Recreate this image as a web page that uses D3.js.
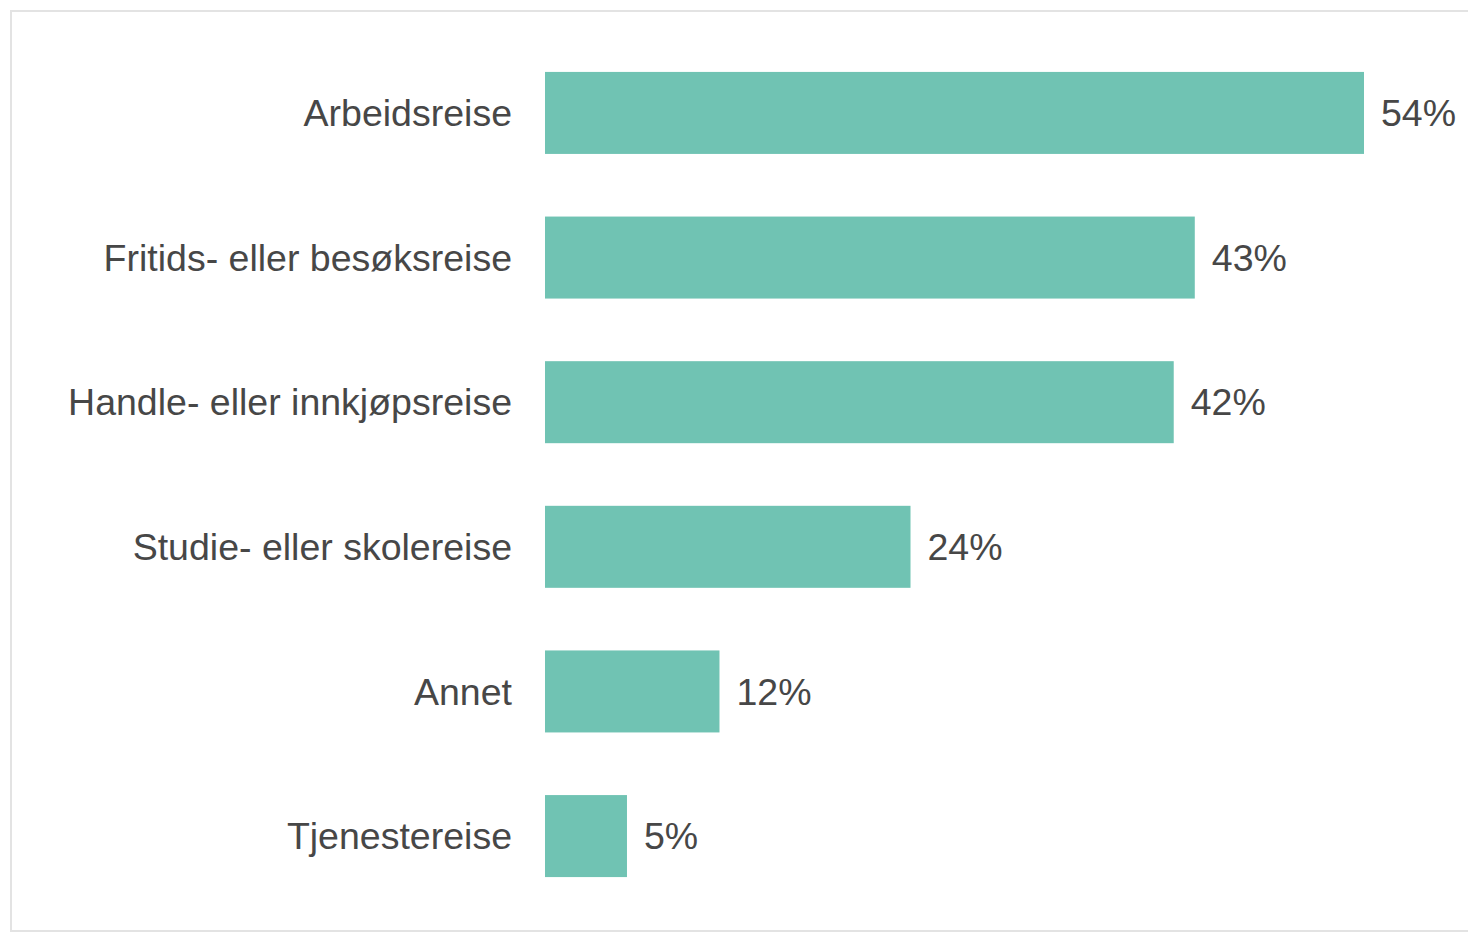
<!DOCTYPE html>
<html>
<head>
<meta charset="utf-8">
<script src="https://cdn.jsdelivr.net/npm/d3@7"></script>
<style>
  html, body { margin: 0; padding: 0; background: #fff; }
  svg { display: block; }
</style>
</head>
<body>
<div id="chart"></div>
<script>
// data (bar lengths, labels are the rounded values)
const categories = ['Arbeidsreise', 'Fritids- eller besøksreise', 'Handle- eller innkjøpsreise', 'Studie- eller skolereise', 'Annet', 'Tjenestereise'];
const values = [54.45, 43.2, 41.8, 24.3, 11.6, 5.45];

const width = 1468;
const height = 933;

const svg = d3.select('#chart').append('svg')
  .attr('width', width)
  .attr('height', height);

// frame lines (top + left + bottom)
svg.append('path')
  .attr('d', `M${width},11 H11 V${height - 2} H${width}`)
  .attr('fill', 'none')
  .attr('stroke', '#e3e3e3')
  .attr('stroke-width', 2);

const x = d3.scaleLinear()
  .domain([0, 54.45])
  .range([545, 1364]);

const y = d3.scaleBand()
  .domain(categories)
  .range([43, 906])
  .paddingInner(0.433)
  .paddingOuter(0.2);

const g = svg.append('g');

g.selectAll('rect')
  .data(categories)
  .enter().append('rect')
  .attr('x', x(0))
  .attr('y', d => y(d))
  .attr('width', (d, i) => x(values[i]) - x(0))
  .attr('height', y.bandwidth())
  .attr('fill', '#70c3b3');

// category labels
g.selectAll('.cat')
  .data(categories)
  .enter().append('text')
  .attr('class', 'cat')
  .attr('x', 512)
  .attr('y', d => y(d) + y.bandwidth() / 2)
  .attr('dy', '0.35em')
  .attr('text-anchor', 'end')
  .attr('font-family', 'Liberation Sans, Arial, sans-serif')
  .attr('font-size', 37.5)
  .attr('fill', '#474747')
  .text(d => d);

// value labels
g.selectAll('.val')
  .data(categories)
  .enter().append('text')
  .attr('class', 'val')
  .attr('x', (d, i) => x(values[i]) + 17)
  .attr('y', d => y(d) + y.bandwidth() / 2)
  .attr('dy', '0.35em')
  .attr('font-family', 'Liberation Sans, Arial, sans-serif')
  .attr('font-size', 37.5)
  .attr('fill', '#474747')
  .text((d, i) => Math.round(values[i]) + '%');
</script>
</body>
</html>
